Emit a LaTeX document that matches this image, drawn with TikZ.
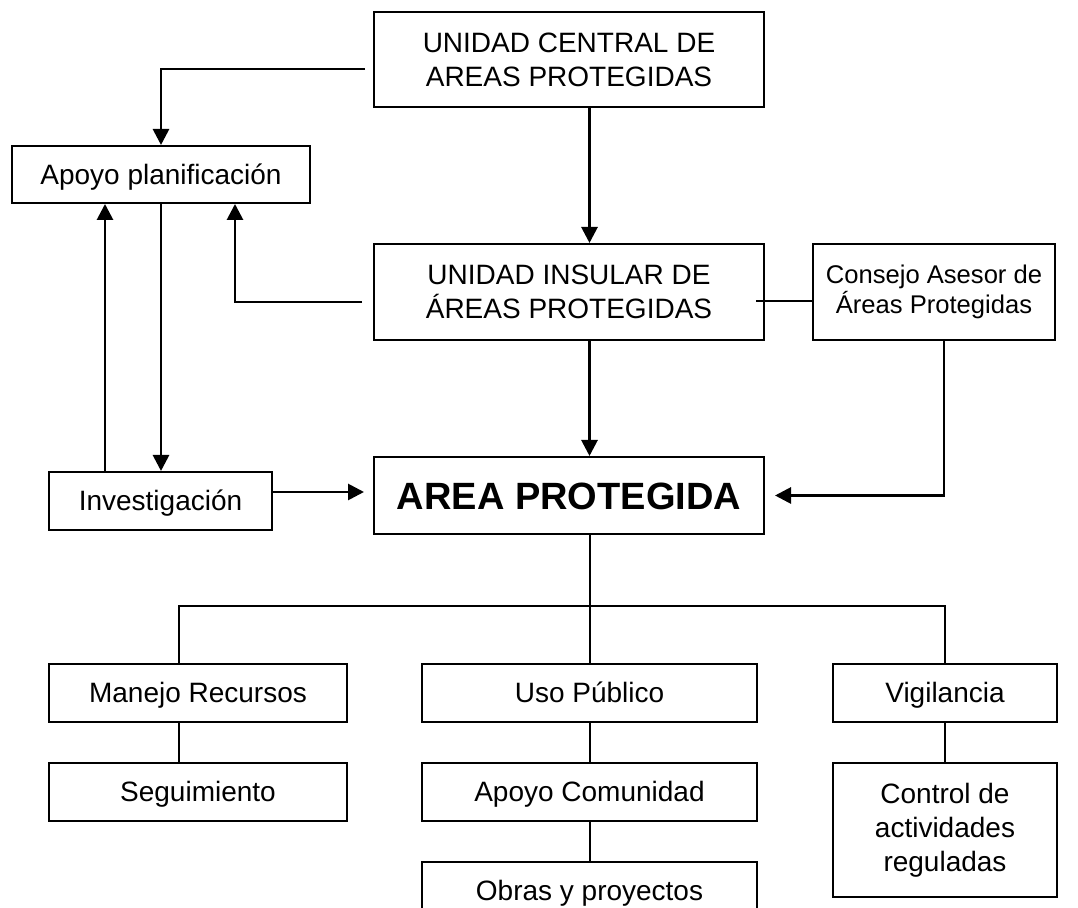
\documentclass[tikz,border=0pt]{standalone}
\usepackage{fontspec}
\setmainfont{Liberation Sans}
\usepackage{tikz}
\usetikzlibrary{calc,positioning,arrows.meta}

\begin{document}
\begin{tikzpicture}[align=center, font=\fontsize{14}{17}\selectfont,
    box/.style={draw, line width=1pt, inner sep=2pt},
    oneline/.style={box, text height=10pt, text depth=0pt},
    arr/.style={line width=1.4pt, -{Triangle[length=8pt,width=8pt]}},
    link/.style={line width=1pt}]
    \path[use as bounding box, clip] (0,0) rectangle (539pt,-454pt);

    % central column
    \node [box, minimum width=195pt, minimum height=47.5pt] (central) at (284.5pt,-29.75pt) {UNIDAD CENTRAL DE\\AREAS PROTEGIDAS};
    \node [box, minimum width=195pt, minimum height=48pt, below=67.5pt of central] (insular) {UNIDAD INSULAR DE\\ÁREAS PROTEGIDAS};
    \node [oneline, minimum width=195pt, minimum height=38.5pt, below=57.5pt of insular, font=\fontsize{19}{23}\selectfont\bfseries, text height=13.6pt, yshift=0pt] (area) {AREA PROTEGIDA};
    \node [box, minimum width=121pt, minimum height=48pt, right=23.5pt of insular, font=\fontsize{12.8}{15}\selectfont] (consejo) {Consejo Asesor de\\Áreas Protegidas};

    % left side
    \node [oneline, minimum width=149pt, minimum height=28.5pt] (apoyo) at (80.5pt,-87.25pt) {Apoyo planificación};
    \node [oneline, minimum width=111.5pt, minimum height=29pt] (investigacion) at (80.25pt,-250.5pt) {Investigación};

    % bottom rows
    \node [oneline, minimum width=149pt, minimum height=29pt] (manejo) at (99pt,-346.5pt) {Manejo Recursos};
    \node [oneline, minimum width=149pt, minimum height=29pt, below=19.5pt of manejo] (seguimiento) {Seguimiento};
    \node [oneline, minimum width=167.5pt, minimum height=29pt, right=36.5pt of manejo] (uso) {Uso Público};
    \node [oneline, minimum width=167.5pt, minimum height=29pt, below=19.5pt of uso] (comunidad) {Apoyo Comunidad};
    \node [oneline, minimum width=167.5pt, minimum height=29pt, below=19.5pt of comunidad] (obras) {Obras y proyectos};
    \node [oneline, minimum width=112pt, minimum height=29pt, right=37pt of uso] (vigilancia) {Vigilancia};
    \node [box, minimum width=112pt, minimum height=67pt, below=19.5pt of vigilancia] (control) {Control de\\actividades\\reguladas};

    % arrows
    \draw[arr] ([xshift=-4pt,yshift=-4.75pt]central.west) -| (apoyo.north);
    \draw[arr] (central.south -| uso.north) -- (insular.north -| uso.north);
    \draw[arr] (insular.south -| uso.north) -- (area.north -| uso.north);
    \draw[arr] ([xshift=-5.5pt,yshift=-5pt]insular.west) -| ([xshift=37pt]apoyo.south);
    \draw[arr] ([xshift=-27.75pt]investigacion.north) -- ([xshift=-27.75pt]investigacion.north |- apoyo.south);
    \draw[arr] (apoyo.south) -- (apoyo.south |- investigacion.north);
    \draw[arr] ([yshift=4.5pt]investigacion.east) -- ([xshift=-4.5pt,yshift=4.5pt]investigacion.east -| area.west);
    \draw[arr] ([xshift=5pt]consejo.south) |- ([xshift=5pt]area.east);
    \draw[link] ([xshift=-4.5pt,yshift=-4.5pt]insular.east) -- ([yshift=-4.5pt]consejo.west);

    % tree
    \coordinate (fork) at ([yshift=28.5pt]uso.north);
    \draw[link] (area.south -| uso.north) -- (uso.north);
    \draw[link] ([xshift=-9.5pt]manejo.north) |- (fork) -| (vigilancia.north);
    \draw[link] ([xshift=-9.5pt]manejo.south) -- ([xshift=-9.5pt]seguimiento.north);
    \draw[link] (uso.south) -- (comunidad.north);
    \draw[link] (comunidad.south) -- (obras.north);
    \draw[link] (vigilancia.south) -- (control.north);

\end{tikzpicture}
\end{document}
